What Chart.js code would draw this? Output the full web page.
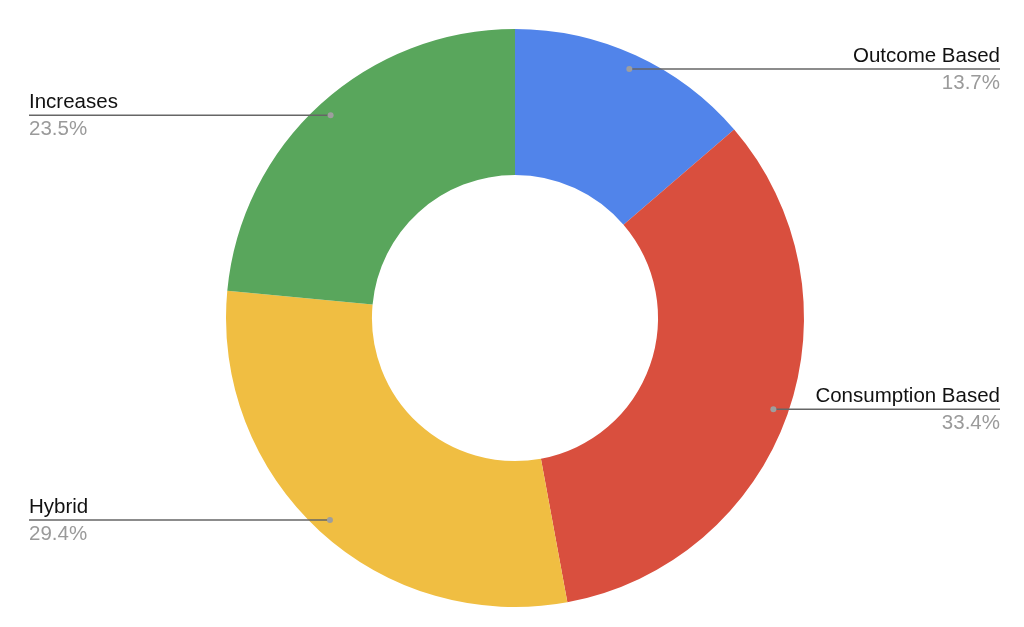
<!DOCTYPE html>
<html>
<head>
<meta charset="utf-8">
<script src="https://cdn.jsdelivr.net/npm/chart.js@4"></script>
<style>
  html, body { margin: 0; padding: 0; background: #fff; }
  #wrap { width: 1024px; height: 627px; }
</style>
</head>
<body>
<div id="wrap"><canvas id="pieChart"></canvas></div>
<script>
const categories = ['Outcome Based', 'Consumption Based', 'Hybrid', 'Increases'];
const shares = [13.7, 33.4, 29.4, 23.5];
const sliceColors = ['#5184EA', '#D94F3E', '#F0BE42', '#59A65C'];

const FONT = '"Liberation Sans", Arial, sans-serif';

// leader lines with label above and percentage below
const leaderLabels = {
    id: 'leaderLabels',
    afterDatasetsDraw(chart) {
        const ctx = chart.ctx;
        const meta = chart.getDatasetMeta(0);
        const total = shares.reduce((a, b) => a + b, 0);
        meta.data.forEach((arc, i) => {
            const p = arc.getProps(['x', 'y', 'startAngle', 'endAngle', 'outerRadius']);
            const mid = (p.startAngle + p.endAngle) / 2;
            const r = p.outerRadius - 15;
            const px = p.x + Math.cos(mid) * r;
            const py = p.y + Math.sin(mid) * r;
            const right = Math.cos(mid) >= 0;
            const edge = right ? chart.width - 24 : 29;

            ctx.save();
            ctx.strokeStyle = '#666';
            ctx.lineWidth = 1.5;
            ctx.beginPath();
            ctx.moveTo(px, py);
            ctx.lineTo(edge, py);
            ctx.stroke();

            ctx.fillStyle = '#9e9e9e';
            ctx.beginPath();
            ctx.arc(px, py, 3, 0, Math.PI * 2);
            ctx.fill();

            ctx.font = '20.5px ' + FONT;
            ctx.textAlign = right ? 'right' : 'left';
            ctx.textBaseline = 'alphabetic';
            ctx.fillStyle = '#111';
            ctx.fillText(categories[i], edge, py - 7);

            ctx.fillStyle = '#9a9a9a';
            ctx.textBaseline = 'alphabetic';
            ctx.fillText((shares[i] / total * 100).toFixed(1) + '%', edge, py + 20);
            ctx.restore();
        });
    }
};

const ctx = document.getElementById('pieChart').getContext('2d');
const myChart = new Chart(ctx, {
    type: 'doughnut',
    data: {
        labels: categories,
        datasets: [{
            data: shares,
            backgroundColor: sliceColors,
            borderWidth: 0
        }]
    },
    options: {
        responsive: true,
        maintainAspectRatio: false,
        animation: false,
        cutout: '49.5%',
        layout: { padding: { top: 29, bottom: 20, left: 6, right: 0 } },
        plugins: {
            legend: { display: false },
            tooltip: { enabled: false }
        }
    },
    plugins: [leaderLabels]
});
</script>
</body>
</html>
